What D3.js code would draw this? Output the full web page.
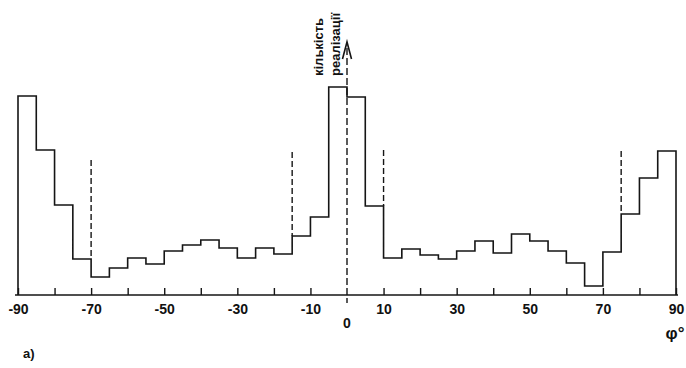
<!DOCTYPE html>
<html>
<head>
<meta charset="utf-8">
<script src="https://cdn.jsdelivr.net/npm/d3@7"></script>
<style>
  html, body { margin: 0; padding: 0; background: #fff; }
  svg { display: block; }
  text { font-family: "Liberation Sans", Arial, sans-serif; font-weight: bold; fill: #111; }
</style>
</head>
<body>
<svg id="chart" width="686" height="368"></svg>
<script>
// Bin left edges (degrees, bin width 5)
const binStarts = [-90,-85,-80,-75,-70,-65,-60,-55,-50,-45,-40,-35,-30,-25,-20,-15,-10,-5,
                   0,5,10,15,20,25,30,35,40,45,50,55,60,65,70,75,80,85];
// Count of realizations per bin (relative units)
const counts = [199,145,90,36,18,27,37,31,44,50,55,47,37,47,41,59,78,208,
                198,89,37,46,40,36,44,54,42,61,54,44,32,9,43,81,117,144];
const binWidth = 5;
// Dashed boundary markers (degrees) and their top values
const markerAngles = [-70,-15,10,75];
const markerTops = [135,143,145,144];
// Axis ticks
const tickValues = [-90,-80,-70,-60,-50,-40,-30,-20,-10,10,20,30,40,50,60,70,80,90];
const tickLabels = ["-90","","-70","","-50","","-30","","-10","10","","30","","50","","70","","90"];
const axisTitle = ["кількість","реалізації"];
const xTitle = "φ°";
const panelLabel = "a)";

const svg = d3.select("#chart");
const x = d3.scaleLinear().domain([-90, 90]).range([18, 676]);
const y = d3.scaleLinear().domain([0, 250]).range([295, 45]);
const ink = "#151515";

// Step outline of the histogram
const pts = [[x(-90), y(0)]];
binStarts.forEach((b, i) => {
  pts.push([x(b), y(counts[i])]);
  pts.push([x(b + binWidth), y(counts[i])]);
});
pts.push([x(90), y(0)]);
svg.append("path")
  .attr("d", d3.line()(pts))
  .attr("fill", "none")
  .attr("stroke", ink)
  .attr("stroke-width", 1.6)
  .attr("stroke-linejoin", "miter");

// Dashed markers
markerAngles.forEach((a, i) => {
  const iLeft = binStarts.indexOf(a - binWidth);
  const iRight = binStarts.indexOf(a);
  const low = Math.max(counts[iLeft], counts[iRight]);
  svg.append("line")
    .attr("x1", x(a)).attr("x2", x(a))
    .attr("y1", y(markerTops[i])).attr("y2", y(low))
    .attr("stroke", ink).attr("stroke-width", 1.4)
    .attr("stroke-dasharray", "6,3");
});

// X axis with upward ticks
const xAxis = d3.axisBottom(x)
  .tickValues(tickValues)
  .tickSizeInner(-7)
  .tickSizeOuter(0)
  .tickPadding(9)
  .tickFormat((d, i) => tickLabels[i]);
const gx = svg.append("g").attr("transform", `translate(0,${y(0)})`).call(xAxis);
gx.select(".domain").attr("stroke", ink).attr("stroke-width", 1.6)
  .attr("d", `M${x(-90) - 3},0H${x(90) + 2}`);
gx.selectAll(".tick line").attr("stroke", ink).attr("stroke-width", 1.4);
gx.selectAll(".tick text")
  .style("font-family", '"Liberation Sans", Arial, sans-serif')
  .style("font-weight", "bold").style("font-size", "14px").attr("fill", "#111");

// Zero label below axis
svg.append("text").attr("x", x(0)).attr("y", 328)
  .attr("text-anchor", "middle").style("font-size", "14px").text("0");

// Vertical (dashed) axis at 0 with arrow
svg.append("line")
  .attr("x1", x(0)).attr("x2", x(0))
  .attr("y1", 48).attr("y2", 303)
  .attr("stroke", ink).attr("stroke-width", 1.4)
  .attr("stroke-dasharray", "7,3");
svg.append("path")
  .attr("d", `M${x(0) - 4.5},59L${x(0)},42L${x(0) + 4.5},59`)
  .attr("fill", "none").attr("stroke", ink).attr("stroke-width", 1.6);

// Rotated axis title
axisTitle.forEach((t, i) => {
  svg.append("text")
    .attr("transform", `translate(${322.5 + i * 17},76) rotate(-90)`)
    .attr("text-anchor", "start")
    .style("font-size", "13px")
    .text(t);
});

// x title and panel label
svg.append("text").attr("x", 675).attr("y", 339).attr("text-anchor", "middle")
  .style("font-size", "17px").text(xTitle);
svg.append("text").attr("x", 23).attr("y", 358).attr("text-anchor", "start")
  .style("font-size", "13px").text(panelLabel);
</script>
</body>
</html>
